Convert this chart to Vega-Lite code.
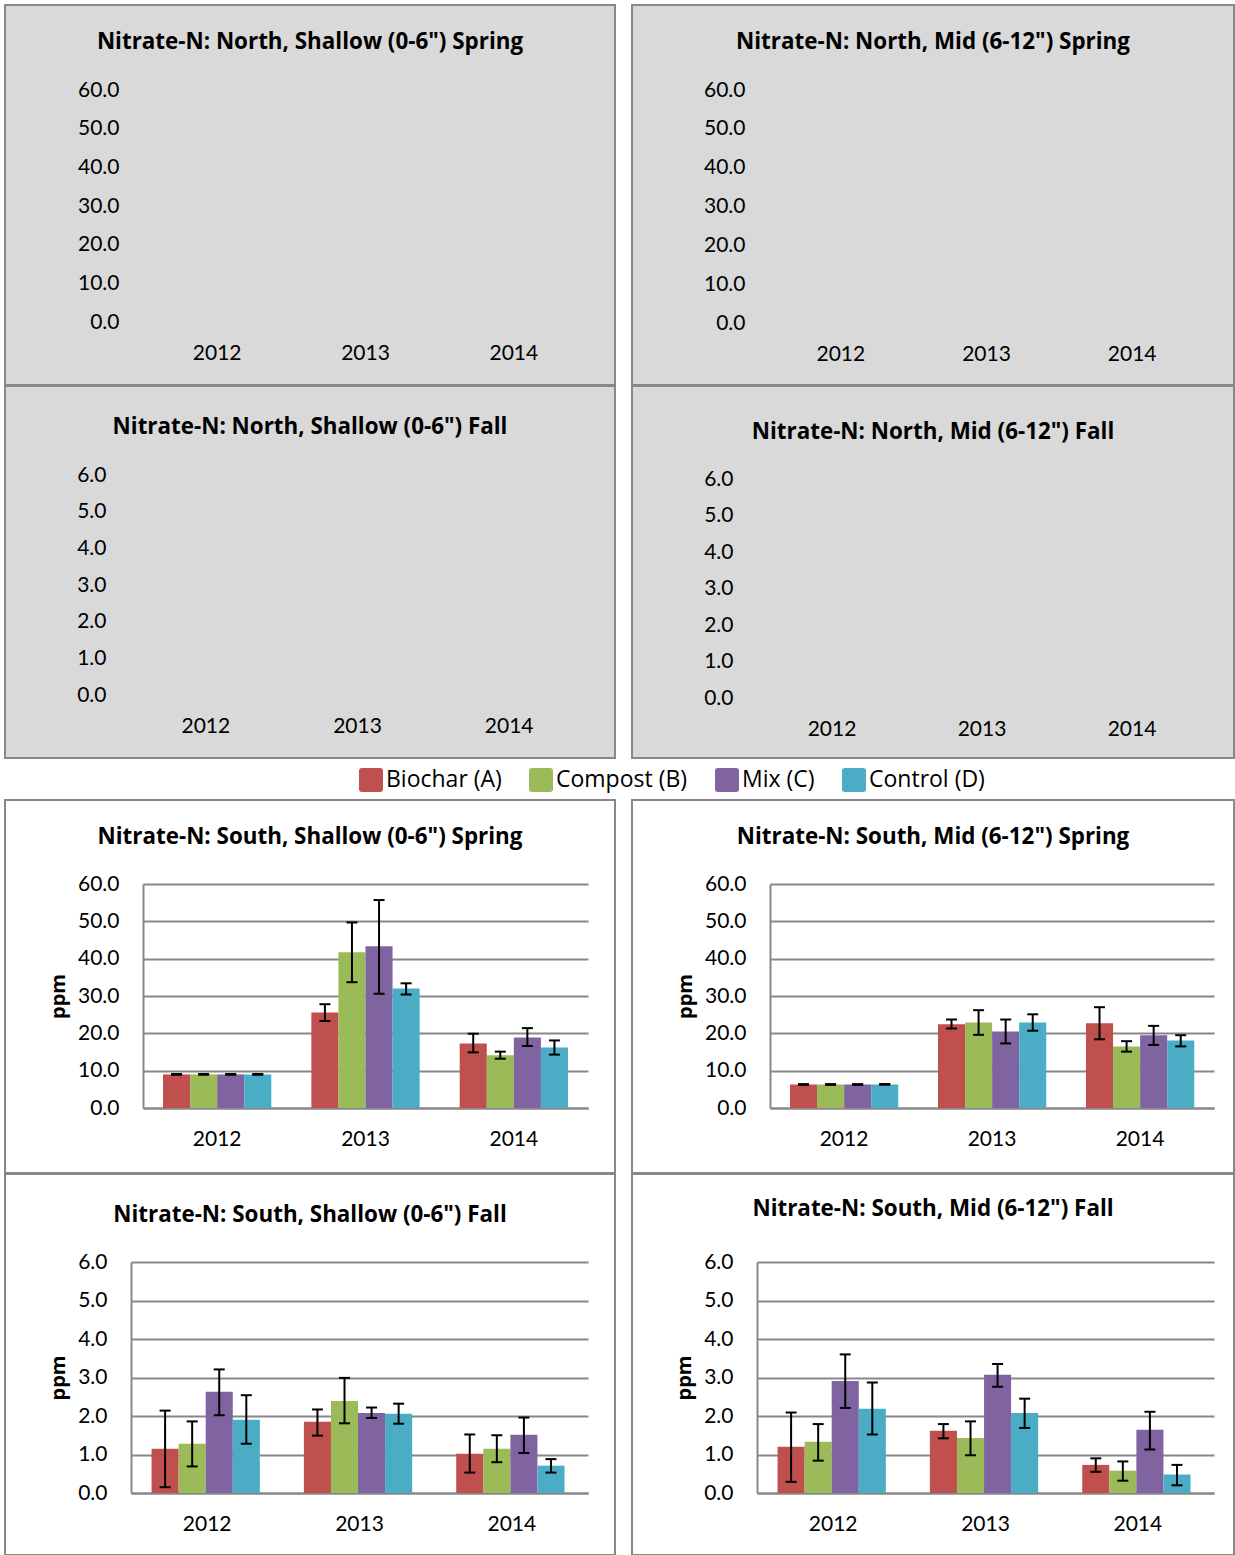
{
  "$schema": "https://vega.github.io/schema/vega-lite/v6.json",
  "padding": {"left": 4, "top": 4, "right": 0, "bottom": 0},
  "background": "white",
  "data": {"values": [
    {"site":"South","depth":"Shallow","season":"Spring","year":"2012","treatment":"Biochar (A)","ppm":9.0,"lo":8.9,"hi":9.1},
    {"site":"South","depth":"Shallow","season":"Spring","year":"2012","treatment":"Compost (B)","ppm":9.0,"lo":8.9,"hi":9.1},
    {"site":"South","depth":"Shallow","season":"Spring","year":"2012","treatment":"Mix (C)","ppm":9.0,"lo":8.9,"hi":9.1},
    {"site":"South","depth":"Shallow","season":"Spring","year":"2012","treatment":"Control (D)","ppm":9.0,"lo":8.9,"hi":9.1},
    {"site":"South","depth":"Shallow","season":"Spring","year":"2013","treatment":"Biochar (A)","ppm":25.6,"lo":23.3,"hi":27.8},
    {"site":"South","depth":"Shallow","season":"Spring","year":"2013","treatment":"Compost (B)","ppm":41.7,"lo":33.7,"hi":49.7},
    {"site":"South","depth":"Shallow","season":"Spring","year":"2013","treatment":"Mix (C)","ppm":43.3,"lo":30.6,"hi":55.7},
    {"site":"South","depth":"Shallow","season":"Spring","year":"2013","treatment":"Control (D)","ppm":32.0,"lo":30.4,"hi":33.4},
    {"site":"South","depth":"Shallow","season":"Spring","year":"2014","treatment":"Biochar (A)","ppm":17.3,"lo":14.9,"hi":19.9},
    {"site":"South","depth":"Shallow","season":"Spring","year":"2014","treatment":"Compost (B)","ppm":14.1,"lo":13.2,"hi":15.1},
    {"site":"South","depth":"Shallow","season":"Spring","year":"2014","treatment":"Mix (C)","ppm":18.9,"lo":16.6,"hi":21.4},
    {"site":"South","depth":"Shallow","season":"Spring","year":"2014","treatment":"Control (D)","ppm":16.2,"lo":14.3,"hi":18.1},
    {"site":"South","depth":"Mid","season":"Spring","year":"2012","treatment":"Biochar (A)","ppm":6.3,"lo":6.2,"hi":6.4},
    {"site":"South","depth":"Mid","season":"Spring","year":"2012","treatment":"Compost (B)","ppm":6.3,"lo":6.2,"hi":6.4},
    {"site":"South","depth":"Mid","season":"Spring","year":"2012","treatment":"Mix (C)","ppm":6.3,"lo":6.2,"hi":6.4},
    {"site":"South","depth":"Mid","season":"Spring","year":"2012","treatment":"Control (D)","ppm":6.3,"lo":6.2,"hi":6.4},
    {"site":"South","depth":"Mid","season":"Spring","year":"2013","treatment":"Biochar (A)","ppm":22.4,"lo":21.3,"hi":23.7},
    {"site":"South","depth":"Mid","season":"Spring","year":"2013","treatment":"Compost (B)","ppm":22.9,"lo":19.6,"hi":26.2},
    {"site":"South","depth":"Mid","season":"Spring","year":"2013","treatment":"Mix (C)","ppm":20.5,"lo":17.3,"hi":23.7},
    {"site":"South","depth":"Mid","season":"Spring","year":"2013","treatment":"Control (D)","ppm":22.9,"lo":20.7,"hi":25.1},
    {"site":"South","depth":"Mid","season":"Spring","year":"2014","treatment":"Biochar (A)","ppm":22.7,"lo":18.4,"hi":27.0},
    {"site":"South","depth":"Mid","season":"Spring","year":"2014","treatment":"Compost (B)","ppm":16.5,"lo":15.1,"hi":17.9},
    {"site":"South","depth":"Mid","season":"Spring","year":"2014","treatment":"Mix (C)","ppm":19.5,"lo":16.9,"hi":22.0},
    {"site":"South","depth":"Mid","season":"Spring","year":"2014","treatment":"Control (D)","ppm":18.1,"lo":16.5,"hi":19.5},
    {"site":"South","depth":"Shallow","season":"Fall","year":"2012","treatment":"Biochar (A)","ppm":1.15,"lo":0.15,"hi":2.14},
    {"site":"South","depth":"Shallow","season":"Fall","year":"2012","treatment":"Compost (B)","ppm":1.28,"lo":0.69,"hi":1.86},
    {"site":"South","depth":"Shallow","season":"Fall","year":"2012","treatment":"Mix (C)","ppm":2.63,"lo":2.02,"hi":3.21},
    {"site":"South","depth":"Shallow","season":"Fall","year":"2012","treatment":"Control (D)","ppm":1.90,"lo":1.28,"hi":2.54},
    {"site":"South","depth":"Shallow","season":"Fall","year":"2013","treatment":"Biochar (A)","ppm":1.85,"lo":1.49,"hi":2.17},
    {"site":"South","depth":"Shallow","season":"Fall","year":"2013","treatment":"Compost (B)","ppm":2.39,"lo":1.81,"hi":2.99},
    {"site":"South","depth":"Shallow","season":"Fall","year":"2013","treatment":"Mix (C)","ppm":2.08,"lo":1.95,"hi":2.22},
    {"site":"South","depth":"Shallow","season":"Fall","year":"2013","treatment":"Control (D)","ppm":2.06,"lo":1.80,"hi":2.32},
    {"site":"South","depth":"Shallow","season":"Fall","year":"2014","treatment":"Biochar (A)","ppm":1.02,"lo":0.53,"hi":1.52},
    {"site":"South","depth":"Shallow","season":"Fall","year":"2014","treatment":"Compost (B)","ppm":1.15,"lo":0.80,"hi":1.50},
    {"site":"South","depth":"Shallow","season":"Fall","year":"2014","treatment":"Mix (C)","ppm":1.51,"lo":1.04,"hi":1.96},
    {"site":"South","depth":"Shallow","season":"Fall","year":"2014","treatment":"Control (D)","ppm":0.71,"lo":0.53,"hi":0.88},
    {"site":"South","depth":"Mid","season":"Fall","year":"2012","treatment":"Biochar (A)","ppm":1.20,"lo":0.29,"hi":2.09},
    {"site":"South","depth":"Mid","season":"Fall","year":"2012","treatment":"Compost (B)","ppm":1.33,"lo":0.84,"hi":1.79},
    {"site":"South","depth":"Mid","season":"Fall","year":"2012","treatment":"Mix (C)","ppm":2.91,"lo":2.21,"hi":3.60},
    {"site":"South","depth":"Mid","season":"Fall","year":"2012","treatment":"Control (D)","ppm":2.19,"lo":1.52,"hi":2.87},
    {"site":"South","depth":"Mid","season":"Fall","year":"2013","treatment":"Biochar (A)","ppm":1.62,"lo":1.42,"hi":1.79},
    {"site":"South","depth":"Mid","season":"Fall","year":"2013","treatment":"Compost (B)","ppm":1.43,"lo":0.98,"hi":1.86},
    {"site":"South","depth":"Mid","season":"Fall","year":"2013","treatment":"Mix (C)","ppm":3.07,"lo":2.76,"hi":3.35},
    {"site":"South","depth":"Mid","season":"Fall","year":"2013","treatment":"Control (D)","ppm":2.08,"lo":1.69,"hi":2.45},
    {"site":"South","depth":"Mid","season":"Fall","year":"2014","treatment":"Biochar (A)","ppm":0.73,"lo":0.55,"hi":0.90},
    {"site":"South","depth":"Mid","season":"Fall","year":"2014","treatment":"Compost (B)","ppm":0.58,"lo":0.32,"hi":0.82},
    {"site":"South","depth":"Mid","season":"Fall","year":"2014","treatment":"Mix (C)","ppm":1.64,"lo":1.13,"hi":2.11},
    {"site":"South","depth":"Mid","season":"Fall","year":"2014","treatment":"Control (D)","ppm":0.48,"lo":0.20,"hi":0.73}
  ]},
  "spacing": 40,
  "vconcat": [
    {"spacing": -2, "vconcat": [
      {"spacing": 15, "hconcat": [
        {
          "width": 610, "height": 380,
          "view": {"fill": "#d9d9d9", "stroke": "#888888", "strokeWidth": 2},
          "title": {"text": "Nitrate-N: North, Shallow (0-6\") Spring", "offset": -48},
          "transform": [{"filter": "datum.site == 'North' && datum.depth == 'Shallow' && datum.season == 'Spring'"}],
          "mark": "bar",
          "encoding": {
            "x": {"field": "year", "type": "nominal", "title": null, "scale": {"domain": ["2012","2013","2014"], "range": [138, 583], "paddingInner": 0.27, "paddingOuter": 0.135}, "axis": {"offset": -63, "labelAngle": 0, "labelPadding": 20, "domain": false}},
            "y": {"field": "ppm", "type": "quantitative", "title": null, "scale": {"domain": [0, 60], "range": [317, 85], "nice": false}, "axis": {"offset": -138, "values": [0,10,20,30,40,50,60], "format": ".1f", "grid": false, "domain": false, "labelPadding": 24}}
          }
        },
        {
          "width": 602, "height": 380,
          "view": {"fill": "#d9d9d9", "stroke": "#888888", "strokeWidth": 2},
          "title": {"text": "Nitrate-N: North, Mid (6-12\") Spring", "offset": -48},
          "transform": [{"filter": "datum.site == 'North' && datum.depth == 'Mid' && datum.season == 'Spring'"}],
          "mark": "bar",
          "encoding": {
            "x": {"field": "year", "type": "nominal", "title": null, "scale": {"domain": ["2012","2013","2014"], "range": [136, 573], "paddingInner": 0.27, "paddingOuter": 0.135}, "axis": {"offset": -62, "labelAngle": 0, "labelPadding": 20, "domain": false}},
            "y": {"field": "ppm", "type": "quantitative", "title": null, "scale": {"domain": [0, 60], "range": [318, 85], "nice": false}, "axis": {"offset": -137, "values": [0,10,20,30,40,50,60], "format": ".1f", "grid": false, "domain": false, "labelPadding": 24}}
          }
        }
      ]},
      {"spacing": 15, "hconcat": [
        {
          "width": 610, "height": 372,
          "view": {"fill": "#d9d9d9", "stroke": "#888888", "strokeWidth": 2},
          "title": {"text": "Nitrate-N: North, Shallow (0-6\") Fall", "offset": -52},
          "transform": [{"filter": "datum.site == 'North' && datum.depth == 'Shallow' && datum.season == 'Fall'"}],
          "mark": "bar",
          "encoding": {
            "x": {"field": "year", "type": "nominal", "title": null, "scale": {"domain": ["2012","2013","2014"], "range": [125, 580], "paddingInner": 0.27, "paddingOuter": 0.135}, "axis": {"offset": -63, "labelAngle": 0, "labelPadding": 20, "domain": false}},
            "y": {"field": "ppm", "type": "quantitative", "title": null, "scale": {"domain": [0, 6], "range": [309, 89], "nice": false}, "axis": {"offset": -125, "values": [0,1,2,3,4,5,6], "format": ".1f", "grid": false, "domain": false, "labelPadding": 24}}
          }
        },
        {
          "width": 602, "height": 372,
          "view": {"fill": "#d9d9d9", "stroke": "#888888", "strokeWidth": 2},
          "title": {"text": "Nitrate-N: North, Mid (6-12\") Fall", "offset": -57},
          "transform": [{"filter": "datum.site == 'North' && datum.depth == 'Mid' && datum.season == 'Fall'"}],
          "mark": "bar",
          "encoding": {
            "x": {"field": "year", "type": "nominal", "title": null, "scale": {"domain": ["2012","2013","2014"], "range": [125, 575], "paddingInner": 0.27, "paddingOuter": 0.135}, "axis": {"offset": -60, "labelAngle": 0, "labelPadding": 20, "domain": false}},
            "y": {"field": "ppm", "type": "quantitative", "title": null, "scale": {"domain": [0, 6], "range": [312, 93], "nice": false}, "axis": {"offset": -125, "values": [0,1,2,3,4,5,6], "format": ".1f", "grid": false, "domain": false, "labelPadding": 24}}
          }
        }
      ]}
    ]},
    {"spacing": -2, "vconcat": [
      {"spacing": 15, "hconcat": [
        {
          "width": 610, "height": 373,
          "view": {"fill": "white", "stroke": "#888888", "strokeWidth": 2},
          "title": {"text": "Nitrate-N: South, Shallow (0-6\") Spring", "offset": -48},
          "transform": [{"filter": "datum.site == 'South' && datum.depth == 'Shallow' && datum.season == 'Spring'"}],
          "encoding": {
            "x": {"field": "year", "type": "nominal", "title": null, "scale": {"domain": ["2012","2013","2014"], "range": [138, 583], "paddingInner": 0.27, "paddingOuter": 0.135}, "axis": {"offset": -65, "labelAngle": 0, "labelPadding": 20, "domain": true}},
            "xOffset": {"field": "treatment", "type": "nominal", "scale": {"domain": ["Biochar (A)","Compost (B)","Mix (C)","Control (D)"]}}
          },
          "layer": [
            {"mark": "bar", "encoding": {
              "y": {"field": "ppm", "type": "quantitative", "title": "ppm", "scale": {"domain": [0, 60], "range": [308, 84], "nice": false}, "axis": {"offset": -138, "values": [0,10,20,30,40,50,60], "format": ".1f", "grid": true, "domain": true, "labelPadding": 24, "titlePadding": 9}},
              "color": {"field": "treatment", "type": "nominal", "scale": {"domain": ["Biochar (A)","Compost (B)","Mix (C)","Control (D)"], "range": ["#C0504D","#9BBB59","#8064A2","#4BACC6"]},
                "legend": {"orient": "none", "legendX": 354, "legendY": 763, "direction": "horizontal", "title": null, "padding": 0, "symbolType": "M-1,-0.75Q-1,-1,-0.75,-1L0.75,-1Q1,-1,1,-0.75L1,0.75Q1,1,0.75,1L-0.75,1Q-1,1,-1,0.75Z", "symbolSize": 576, "symbolStrokeWidth": 0, "symbolOpacity": 1, "labelFont": "Open Sans", "labelFontSize": 23, "labelColor": "#000", "labelOffset": 3, "columnPadding": 27, "labelLimit": 400}}
            }},
            {"mark": {"type": "rule", "color": "black", "strokeWidth": 2}, "encoding": {"y": {"field": "lo", "type": "quantitative", "title": "ppm"}, "y2": {"field": "hi"}}},
            {"mark": {"type": "tick", "orient": "horizontal", "color": "black", "size": 11, "thickness": 2, "opacity": 1}, "encoding": {"y": {"field": "lo", "type": "quantitative", "title": "ppm"}}},
            {"mark": {"type": "tick", "orient": "horizontal", "color": "black", "size": 11, "thickness": 2, "opacity": 1}, "encoding": {"y": {"field": "hi", "type": "quantitative", "title": "ppm"}}}
          ]
        },
        {
          "width": 602, "height": 373,
          "view": {"fill": "white", "stroke": "#888888", "strokeWidth": 2},
          "title": {"text": "Nitrate-N: South, Mid (6-12\") Spring", "offset": -48},
          "transform": [{"filter": "datum.site == 'South' && datum.depth == 'Mid' && datum.season == 'Spring'"}],
          "encoding": {
            "x": {"field": "year", "type": "nominal", "title": null, "scale": {"domain": ["2012","2013","2014"], "range": [138, 582], "paddingInner": 0.27, "paddingOuter": 0.135}, "axis": {"offset": -65, "labelAngle": 0, "labelPadding": 20, "domain": true}},
            "xOffset": {"field": "treatment", "type": "nominal", "scale": {"domain": ["Biochar (A)","Compost (B)","Mix (C)","Control (D)"]}}
          },
          "layer": [
            {"mark": "bar", "encoding": {
              "y": {"field": "ppm", "type": "quantitative", "title": "ppm", "scale": {"domain": [0, 60], "range": [308, 84], "nice": false}, "axis": {"offset": -138, "values": [0,10,20,30,40,50,60], "format": ".1f", "grid": true, "domain": true, "labelPadding": 24, "titlePadding": 9}},
              "color": {"field": "treatment", "type": "nominal", "scale": {"domain": ["Biochar (A)","Compost (B)","Mix (C)","Control (D)"], "range": ["#C0504D","#9BBB59","#8064A2","#4BACC6"]}, "legend": null}
            }},
            {"mark": {"type": "rule", "color": "black", "strokeWidth": 2}, "encoding": {"y": {"field": "lo", "type": "quantitative", "title": "ppm"}, "y2": {"field": "hi"}}},
            {"mark": {"type": "tick", "orient": "horizontal", "color": "black", "size": 11, "thickness": 2, "opacity": 1}, "encoding": {"y": {"field": "lo", "type": "quantitative", "title": "ppm"}}},
            {"mark": {"type": "tick", "orient": "horizontal", "color": "black", "size": 11, "thickness": 2, "opacity": 1}, "encoding": {"y": {"field": "hi", "type": "quantitative", "title": "ppm"}}}
          ]
        }
      ]},
      {"spacing": 15, "hconcat": [
        {
          "width": 610, "height": 381,
          "view": {"fill": "white", "stroke": "#888888", "strokeWidth": 2},
          "title": {"text": "Nitrate-N: South, Shallow (0-6\") Fall", "offset": -52},
          "transform": [{"filter": "datum.site == 'South' && datum.depth == 'Shallow' && datum.season == 'Fall'"}],
          "encoding": {
            "x": {"field": "year", "type": "nominal", "title": null, "scale": {"domain": ["2012","2013","2014"], "range": [126, 583], "paddingInner": 0.27, "paddingOuter": 0.135}, "axis": {"offset": -62, "labelAngle": 0, "labelPadding": 20, "domain": true}},
            "xOffset": {"field": "treatment", "type": "nominal", "scale": {"domain": ["Biochar (A)","Compost (B)","Mix (C)","Control (D)"]}}
          },
          "layer": [
            {"mark": "bar", "encoding": {
              "y": {"field": "ppm", "type": "quantitative", "title": "ppm", "scale": {"domain": [0, 6], "range": [319, 88], "nice": false}, "axis": {"offset": -126, "values": [0,1,2,3,4,5,6], "format": ".1f", "grid": true, "domain": true, "labelPadding": 24, "titlePadding": 9}},
              "color": {"field": "treatment", "type": "nominal", "scale": {"domain": ["Biochar (A)","Compost (B)","Mix (C)","Control (D)"], "range": ["#C0504D","#9BBB59","#8064A2","#4BACC6"]}, "legend": null}
            }},
            {"mark": {"type": "rule", "color": "black", "strokeWidth": 2}, "encoding": {"y": {"field": "lo", "type": "quantitative", "title": "ppm"}, "y2": {"field": "hi"}}},
            {"mark": {"type": "tick", "orient": "horizontal", "color": "black", "size": 11, "thickness": 2, "opacity": 1}, "encoding": {"y": {"field": "lo", "type": "quantitative", "title": "ppm"}}},
            {"mark": {"type": "tick", "orient": "horizontal", "color": "black", "size": 11, "thickness": 2, "opacity": 1}, "encoding": {"y": {"field": "hi", "type": "quantitative", "title": "ppm"}}}
          ]
        },
        {
          "width": 602, "height": 381,
          "view": {"fill": "white", "stroke": "#888888", "strokeWidth": 2},
          "title": {"text": "Nitrate-N: South, Mid (6-12\") Fall", "offset": -46},
          "transform": [{"filter": "datum.site == 'South' && datum.depth == 'Mid' && datum.season == 'Fall'"}],
          "encoding": {
            "x": {"field": "year", "type": "nominal", "title": null, "scale": {"domain": ["2012","2013","2014"], "range": [125, 582], "paddingInner": 0.27, "paddingOuter": 0.135}, "axis": {"offset": -62, "labelAngle": 0, "labelPadding": 20, "domain": true}},
            "xOffset": {"field": "treatment", "type": "nominal", "scale": {"domain": ["Biochar (A)","Compost (B)","Mix (C)","Control (D)"]}}
          },
          "layer": [
            {"mark": "bar", "encoding": {
              "y": {"field": "ppm", "type": "quantitative", "title": "ppm", "scale": {"domain": [0, 6], "range": [319, 88], "nice": false}, "axis": {"offset": -125, "values": [0,1,2,3,4,5,6], "format": ".1f", "grid": true, "domain": true, "labelPadding": 24, "titlePadding": 9}},
              "color": {"field": "treatment", "type": "nominal", "scale": {"domain": ["Biochar (A)","Compost (B)","Mix (C)","Control (D)"], "range": ["#C0504D","#9BBB59","#8064A2","#4BACC6"]}, "legend": null}
            }},
            {"mark": {"type": "rule", "color": "black", "strokeWidth": 2}, "encoding": {"y": {"field": "lo", "type": "quantitative", "title": "ppm"}, "y2": {"field": "hi"}}},
            {"mark": {"type": "tick", "orient": "horizontal", "color": "black", "size": 11, "thickness": 2, "opacity": 1}, "encoding": {"y": {"field": "lo", "type": "quantitative", "title": "ppm"}}},
            {"mark": {"type": "tick", "orient": "horizontal", "color": "black", "size": 11, "thickness": 2, "opacity": 1}, "encoding": {"y": {"field": "hi", "type": "quantitative", "title": "ppm"}}}
          ]
        }
      ]}
    ]}
  ],
  "config": {
    "font": "Lato",
    "view": {"stroke": null},
    "axis": {"labelFont": "Lato", "labelFontSize": 21, "labelColor": "#000", "ticks": false, "tickSize": 0, "domainColor": "#888888", "domainWidth": 2, "gridColor": "#888888", "gridWidth": 1.8, "titleFont": "Open Sans", "titleFontSize": 20, "titleFontWeight": "bold", "titleColor": "#000", "labelOverlap": false, "labelFlush": false},
    "title": {"font": "Open Sans", "fontSize": 22.4, "fontWeight": "bold", "color": "#000", "anchor": "middle", "frame": "group"}
  }
}
